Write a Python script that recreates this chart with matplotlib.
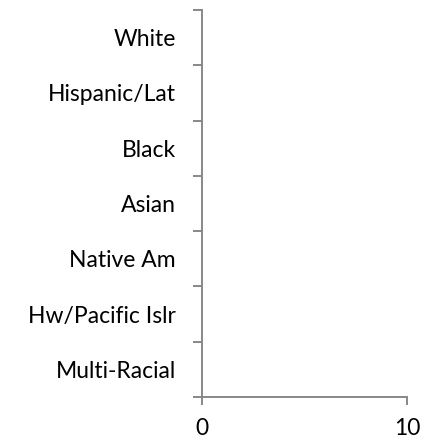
import numpy as np
import matplotlib
matplotlib.use('Agg')
import matplotlib.pyplot as plt

categories = ['White', 'Hispanic/Lat', 'Black', 'Asian', 'Native Am', 'Hw/Pacific Islr', 'Multi-Racial']
values = np.array([0, 0, 0, 0, 0, 0, 0])
x_ticks = [0, 10]

plt.rcParams['font.family'] = ['Lato', 'DejaVu Sans']

fig = plt.figure(figsize=(4.26, 4.41), dpi=100)
ax = fig.add_axes([0.4735, 0.0998, 0.4819, 0.8775])

n = len(categories)
pos = np.arange(n)[::-1] + 0.5
### zero-length bars leave hairline artefacts on the axis, so only draw real ones
keep = values > 0
ax.barh(pos[keep], values[keep], height=0.6, color='#4f81bd', linewidth=0)

ax.set_xlim(0, 10)
ax.set_ylim(0, n)
ax.set_xticks(x_ticks)
ax.set_xticklabels([str(t) for t in x_ticks], fontsize=16.5)

### category boundaries get tick marks, names sit at the centres
ax.set_yticks(np.arange(n + 1))
ax.set_yticklabels([''] * (n + 1))
ax.set_yticks(pos, minor=True)
ax.set_yticklabels(categories, minor=True, fontsize=16.5)
ax.tick_params(axis='y', which='minor', length=0, width=0, pad=18.5)
ax.tick_params(axis='y', which='major', direction='out', length=6.5, color='#888888', width=1.4)
ax.tick_params(axis='x', direction='out', length=6, color='#888888', width=1.4, pad=9)

for s in ['top', 'right']:
    ax.spines[s].set_visible(False)
for s in ['left', 'bottom']:
    ax.spines[s].set_color('#888888')
    ax.spines[s].set_linewidth(1.4)

fig.savefig('out.png', dpi=100)
